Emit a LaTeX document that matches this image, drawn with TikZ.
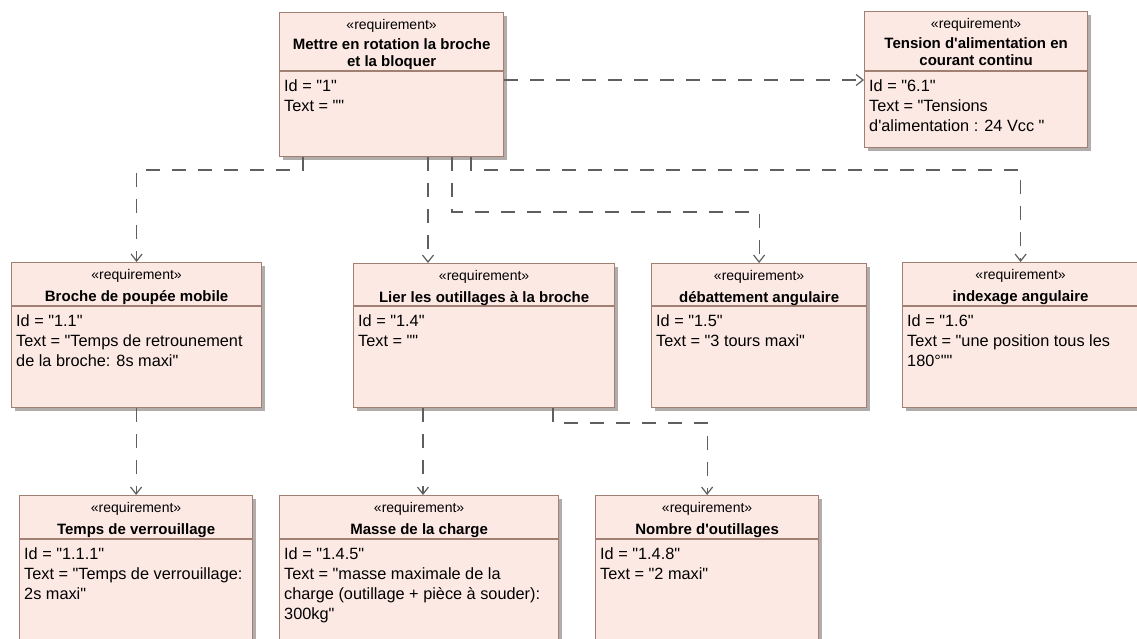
\documentclass[tikz,border=0pt]{standalone}
\usepackage{fontspec}
\setmainfont{Liberation Sans}[Ligatures=TeXOff]
\usetikzlibrary{arrows.meta,calc}
\definecolor{reqfill}{RGB}{253,233,228}
\definecolor{reqline}{RGB}{160,128,115}
\definecolor{shadowc}{RGB}{178,172,170}
\definecolor{depc}{RGB}{95,95,95}
\tikzset{
  reqbox/.style={draw=reqline, fill=reqfill, line width=1.2pt, inner sep=0pt, anchor=north west},
  sepline/.style={draw=reqline, line width=1.2pt},
  stereo/.style={font=\fontsize{14}{16}\selectfont, inner sep=0pt},
  rtitle/.style={font=\fontsize{15}{17}\selectfont\bfseries, align=center, inner sep=0pt, anchor=base},
  rbody/.style={font=\fontsize{16.3}{20}\selectfont, align=left, inner sep=0pt, anchor=north west},
  dep/.style={draw=depc, line width=1.2pt, dash pattern=on 14pt off 12pt, -{Straight Barb[length=7pt,width=11pt]}},
}
% name, x, y, w, h, header height, title (last line) baseline, title, body
\newcommand{\reqnode}[9]{%
  \fill[shadowc] (#2+4,#3+4) rectangle ++(#4,#5);
  \node[reqbox, minimum width=#4pt, minimum height=#5pt] (#1) at (#2,#3) {};
  \draw[sepline] ($(#1.north west)+(0,#6)$) -- ($(#1.north east)+(0,#6)$);
  \node[stereo] (#1-st) at ($(#1.north)+(0,14)$) {«requirement»};
  \node[rtitle] (#1-ti) at ($(#1.north)+(0,#7)$) {#8};
  \node[rbody] (#1-tx) at ($(#1.north west)+(5,#6+8)$) {#9};
}
\begin{document}
\begin{tikzpicture}[x=1pt,y=-1pt]
\useasboundingbox[fill=white] (0,0) rectangle (1137,639);

\reqnode{top}{279}{12}{224}{144}{59}{54.5}{Mettre en rotation la broche\\et la bloquer}{Id = "1"\\Text = ""}
\reqnode{tension}{864}{11}{223}{136}{60}{54.5}{Tension d'alimentation en\\courant continu}{Id = "6.1"\\Text = "Tensions\\d'alimentation : 24 Vcc "}
\reqnode{broche}{11}{262}{250}{145}{44}{39}{Broche de poupée mobile}{Id = "1.1"\\Text = "Temps de retrounement\\de la broche: 8s maxi"}
\reqnode{lier}{353}{263}{261}{144}{43}{39}{Lier les outillages à la broche}{Id = "1.4"\\Text = ""}
\reqnode{debat}{651}{263}{215}{144}{43}{39}{débattement angulaire}{Id = "1.5"\\Text = "3 tours maxi"}
\reqnode{index}{902}{262}{236}{145}{44}{39}{indexage angulaire}{Id = "1.6"\\Text = "une position tous les\\180°""}
\reqnode{temps}{19}{495}{233}{160}{44}{39}{Temps de verrouillage}{Id = "1.1.1"\\Text = "Temps de verrouillage:\\2s maxi"}
\reqnode{masse}{279}{495}{279}{160}{44}{39}{Masse de la charge}{Id = "1.4.5"\\Text = "masse maximale de la\\charge (outillage + pièce à souder):\\300kg"}
\reqnode{nombre}{595}{495}{223}{160}{44}{39}{Nombre d'outillages}{Id = "1.4.8"\\Text = "2 maxi"}

\coordinate (c1) at (303,170);
\coordinate (c2) at (428,0);
\coordinate (c3) at (452,212);
\coordinate (c4) at (471,170);
\coordinate (c5) at (0,80);
\coordinate (c6) at (423,0);
\coordinate (c7) at (553,423);

\draw[dep] (top.south -| c1) -- (c1) -| (broche.north);
\draw[dep] (top.south -| c2) -- (lier.north -| c2);
\draw[dep] (top.south -| c3) -- (c3) -| (debat.north);
\draw[dep] (top.south -| c4) -- (c4) -| (index.north);
\draw[dep] (top.east |- c5) -- (tension.west |- c5);
\draw[dep] (temps.north |- broche.south) -- (temps.north);
\draw[dep] (lier.south -| c6) -- (masse.north -| c6);
\draw[dep] (lier.south -| c7) -- (c7) -| (nombre.north);
\end{tikzpicture}
\end{document}
